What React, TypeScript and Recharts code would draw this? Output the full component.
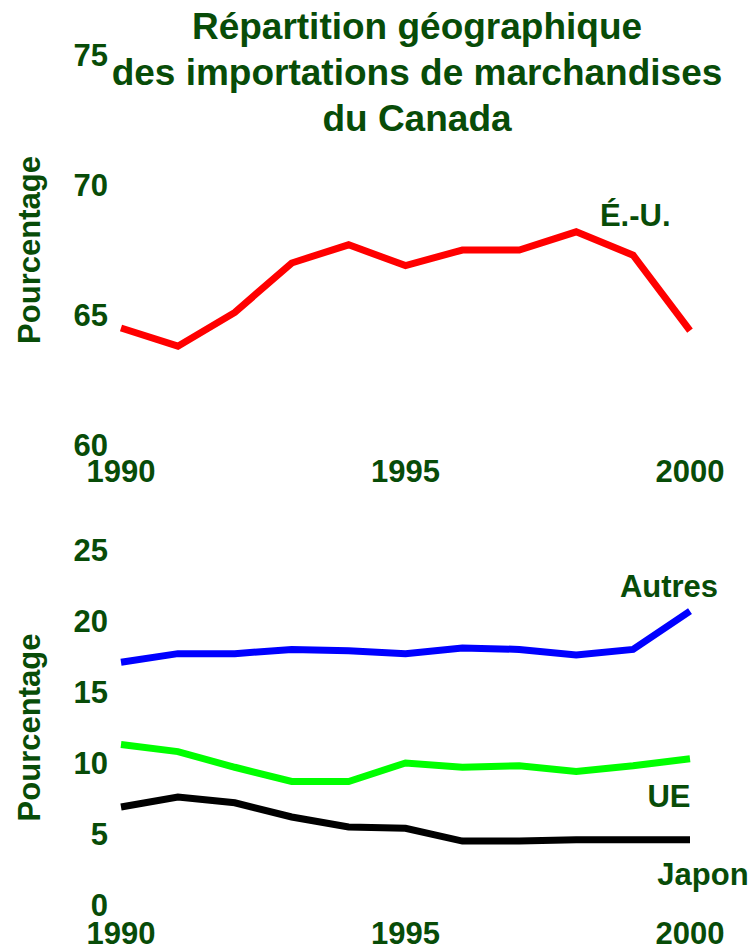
import React from 'react';
import { LineChart, Line, XAxis, YAxis } from 'recharts';

const years = [1990, 1991, 1992, 1993, 1994, 1995, 1996, 1997, 1998, 1999, 2000];
const usa = [64.5, 63.8, 65.1, 67.0, 67.7, 66.9, 67.5, 67.5, 68.2, 67.3, 64.4];
const autres = [17.1, 17.7, 17.7, 18.0, 17.9, 17.7, 18.1, 18.0, 17.6, 18.0, 20.7];
const ue = [11.3, 10.8, 9.7, 8.7, 8.7, 10.0, 9.7, 9.8, 9.4, 9.8, 10.3];
const japon = [6.9, 7.6, 7.2, 6.2, 5.5, 5.4, 4.5, 4.5, 4.6, 4.6, 4.6];

const xTicks = [1990, 1995, 2000];
const topTicks = [60, 65, 70, 75];
const bottomTicks = [0, 5, 10, 15, 20, 25];

const font = '"Liberation Sans", Arial, Helvetica, sans-serif';
const green = '#084c08';

const topData = years.map((y, i) => ({ year: y, usa: usa[i] }));
const bottomData = years.map((y, i) => ({
  year: y,
  autres: autres[i],
  ue: ue[i],
  japon: japon[i],
}));

const tickStyle = { fontSize: 31, fontWeight: 700, fill: green, fontFamily: font };

// label on one point of a line, shifted by dx/dy
function pointLabel(text: string, idx: number, dx: number, dy: number) {
  return (p: any) => {
    if (p.index !== idx) return null;
    return (
      <text
        key={text}
        x={p.x + dx}
        y={p.y + dy}
        textAnchor="middle"
        fontSize={31}
        fontWeight={700}
        fontFamily={font}
        fill={green}
      >
        {text}
      </text>
    );
  };
}

function AxisTitle(props: any) {
  const vb = props.viewBox || { x: 41, y: 0, width: 80, height: 0 };
  const x = vb.x - 1;
  const y = vb.y + vb.height / 2;
  return (
    <text
      x={x}
      y={y}
      transform={`rotate(-90, ${x}, ${y})`}
      textAnchor="middle"
      fontSize={31}
      fontWeight={700}
      fontFamily={font}
      fill={green}
    >
      Pourcentage
    </text>
  );
}

export default function App() {
  return (
    <div style={{ position: 'absolute', left: 0, top: 0, width: 753, height: 946, background: '#fff' }}>
      <div style={{ position: 'absolute', left: 0, top: 0 }}>
        <LineChart width={753} height={500} data={topData} margin={{ top: 55, right: 63, bottom: 15, left: 41 }}>
          <XAxis
            dataKey="year"
            type="number"
            domain={[1990, 2000]}
            ticks={xTicks}
            axisLine={false}
            tickLine={false}
            tickMargin={9}
            height={40}
            tick={tickStyle}
            interval={0}
          />
          <YAxis
            domain={[60, 75]}
            ticks={topTicks}
            axisLine={false}
            tickLine={false}
            tickMargin={7}
            width={80}
            tick={tickStyle}
            interval={0}
            label={{ content: AxisTitle }}
          />
          <Line
            dataKey="usa"
            stroke="#ff0000"
            strokeWidth={7}
            dot={false}
            type="linear"
            isAnimationActive={false}
            label={pointLabel('É.-U.', 8, 59, -6)}
          />
        </LineChart>
      </div>
      <div style={{ position: 'absolute', left: 0, top: 500 }}>
        <LineChart width={753} height={446} data={bottomData} margin={{ top: 50, right: 63, bottom: 11, left: 41 }}>
          <XAxis
            dataKey="year"
            type="number"
            domain={[1990, 2000]}
            ticks={xTicks}
            axisLine={false}
            tickLine={false}
            tickMargin={11}
            height={30}
            tick={tickStyle}
            interval={0}
          />
          <YAxis
            domain={[0, 25]}
            ticks={bottomTicks}
            axisLine={false}
            tickLine={false}
            tickMargin={7}
            width={80}
            tick={tickStyle}
            interval={0}
            label={{ content: AxisTitle }}
          />
          <Line
            dataKey="autres"
            stroke="#0000ff"
            strokeWidth={7}
            dot={false}
            type="linear"
            isAnimationActive={false}
            label={pointLabel('Autres', 10, -21, -14)}
          />
          <Line
            dataKey="ue"
            stroke="#00ff00"
            strokeWidth={7}
            dot={false}
            type="linear"
            isAnimationActive={false}
            label={pointLabel('UE', 10, -21, 48)}
          />
          <Line
            dataKey="japon"
            stroke="#000000"
            strokeWidth={7}
            dot={false}
            type="linear"
            isAnimationActive={false}
            label={pointLabel('Japon', 10, 13, 45)}
          />
        </LineChart>
      </div>
      <div
        style={{
          position: 'absolute',
          left: 80,
          top: 4,
          width: 674,
          textAlign: 'center',
          fontFamily: font,
          fontWeight: 700,
          fontSize: 37,
          lineHeight: '46px',
          color: green,
        }}
      >
        Répartition géographique
        <br />
        des importations de marchandises
        <br />
        du Canada
      </div>
    </div>
  );
}
